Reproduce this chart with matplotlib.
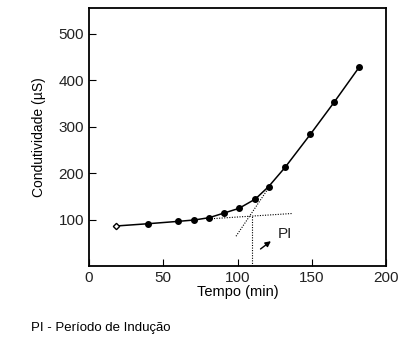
import matplotlib.pyplot as plt

plt.rcParams['font.family'] = ['Liberation Sans', 'DejaVu Sans']

# dados
tempo = [18, 40, 60, 71, 81, 91, 101, 112, 121, 132, 149, 165, 182]
condutividade = [86, 91, 96, 99, 104, 114, 124, 144, 171, 212, 283, 352, 428]

# retas tangentes para o período de indução
tang_base_x = [79, 137]
tang_base_y = [101, 113]
tang_sub_x = [99, 122]
tang_sub_y = [64, 173]
pi_x = 109.5
pi_y = 107

fig = plt.figure(figsize=(4.01, 3.39), dpi=100)
ax = fig.add_axes([89 / 401, 1 - 266 / 339, 297 / 401, 258 / 339])

ax.plot(tempo, condutividade, color='black', linewidth=1.1)
ax.plot(tempo[1:], condutividade[1:], 'o', color='black', markersize=4)
ax.plot(tempo[0], condutividade[0], 'D', markerfacecolor='white',
        markeredgecolor='black', markersize=3.2, markeredgewidth=1)

pontilhado = dict(color='black', linewidth=0.8, linestyle=(0, (1, 1.3)))
ax.plot(tang_base_x, tang_base_y, **pontilhado)
ax.plot(tang_sub_x, tang_sub_y, **pontilhado)
ax.plot([pi_x, pi_x], [0, pi_y], **pontilhado)

ax.annotate('', xy=(124, 57), xytext=(114, 33),
            arrowprops=dict(arrowstyle='-|>', color='black', lw=1,
                            mutation_scale=8))
ax.text(132, 69, 'PI', fontsize=11, ha='center', va='center', color='#222222')

ax.set_xlim(0, 200)
ax.set_ylim(0, 555)
ax.set_xticks([0, 50, 100, 150, 200])
ax.set_yticks([100, 200, 300, 400, 500])
ax.tick_params(direction='in', length=5, labelsize=11, top=False, right=False,
               labelcolor='#222222')
ax.set_xlabel('Tempo (min)', fontsize=10.5, labelpad=0)
ax.set_ylabel('Condutividade (µS)', fontsize=10, labelpad=9)
for s in ax.spines.values():
    s.set_linewidth(1.3)

fig.text(31 / 401, 1 - 328 / 339, 'PI - Período de Indução', fontsize=9.5,
         va='center', ha='left')

fig.savefig('out.png', dpi=100)
